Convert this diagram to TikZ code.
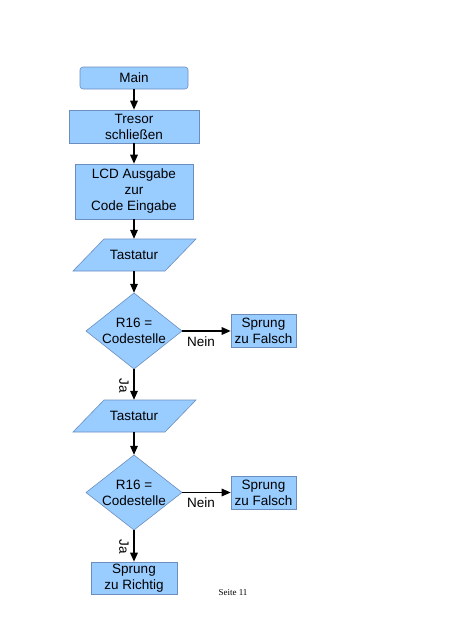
\documentclass[tikz,border=0pt]{standalone}
\usepackage{fontspec}
\setmainfont{Liberation Sans}
\newfontfamily\seriffont{Liberation Serif}
\usetikzlibrary{shapes.geometric,arrows.meta}
\definecolor{boxfill}{HTML}{99CCFF}
\definecolor{boxline}{HTML}{6C8EBF}
\begin{document}
\begin{tikzpicture}[x=1pt,y=-1pt,
  every node/.style={font=\fontsize{13.5}{16}\selectfont, align=center},
  proc/.style={draw=boxline, fill=boxfill, line width=0.6pt, inner sep=0pt},
  shapeline/.style={draw=boxline, fill=boxfill, line width=0.6pt},
  holder/.style={inner sep=0pt},
  flow/.style={line width=1.6pt, -{Triangle[length=9pt,width=7.5pt]}},
  lbl/.style={font=\fontsize{13.5}{16}\selectfont, inner sep=0pt}]
\useasboundingbox (0,0) rectangle (452,640);
\fill[white] (0,0) rectangle (452,640);

\node[proc, rounded corners=3pt, minimum width=108, minimum height=22] (main) at (134,78) {Main};
\node[proc, minimum width=130, minimum height=33] (tresor) at (134,126.5) {Tresor\\schließen};
\node[proc, minimum width=118, minimum height=55] (lcd) at (134,191.5) {LCD Ausgabe\\zur\\Code Eingabe};

\filldraw[shapeline] (104,239) -- (196,239) -- (165,271) -- (73,271) -- cycle;
\node[holder, minimum width=92, minimum height=32] (tast1) at (134,255) {Tastatur};

\filldraw[shapeline] (134,293) -- (182,331) -- (134,369) -- (86,331) -- cycle;
\node[holder, minimum width=96, minimum height=76] (d1) at (134,331) {R16 =\\Codestelle};
\node[proc, minimum width=65, minimum height=33] (f1) at (263.5,331) {Sprung\\zu Falsch};

\filldraw[shapeline] (104,400) -- (196,400) -- (165,432) -- (73,432) -- cycle;
\node[holder, minimum width=92, minimum height=32] (tast2) at (134,416) {Tastatur};

\filldraw[shapeline] (134,455) -- (182,492.5) -- (134,530) -- (86,492.5) -- cycle;
\node[holder, minimum width=96, minimum height=75] (d2) at (134,492.5) {R16 =\\Codestelle};
\node[proc, minimum width=65, minimum height=33] (f2) at (263.5,492.5) {Sprung\\zu Falsch};

\node[proc, minimum width=86, minimum height=32] (richtig) at (134,578) {Sprung\\zu Richtig};

\draw[flow] (main.south) -- (tresor.north);
\draw[flow] (tresor.south) -- (lcd.north);
\draw[flow] (lcd.south) -- (tast1.north);
\draw[flow] (tast1.south) -- (d1.north);
\draw[flow] (d1.east) -- (f1.west);
\draw[flow] (d1.south) -- (tast2.north);
\draw[flow] (tast2.south) -- (d2.north);
\draw[flow] (d2.east) -- (f2.west);
\draw[flow] (d2.south) -- (richtig.north);

\node[lbl] (nein1) at (201,341.5) {Nein};
\node[lbl] (nein2) at (201,503) {Nein};
\node[lbl, rotate=-90] (ja1) at (124,386) {Ja};
\node[lbl, rotate=-90] (ja2) at (124,547) {Ja};

\node[font=\seriffont\fontsize{9}{10}\selectfont, inner sep=0pt] (seite) at (233,593) {Seite 11};
\end{tikzpicture}
\end{document}
